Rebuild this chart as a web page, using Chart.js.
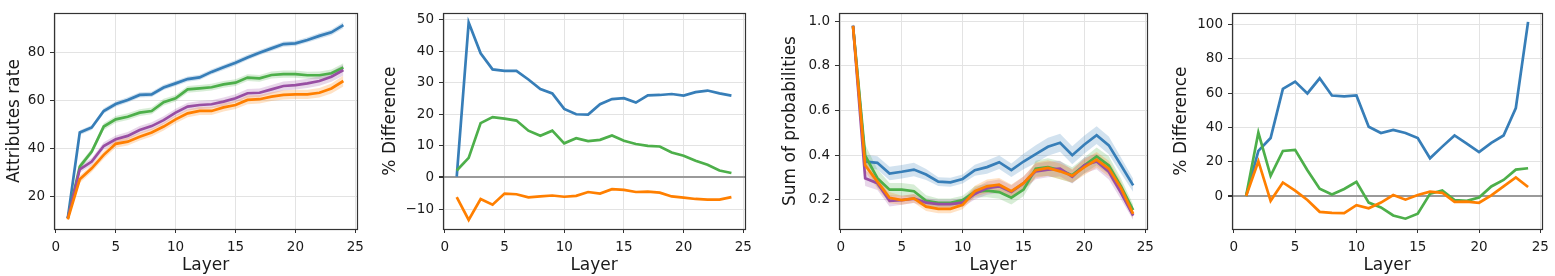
<!DOCTYPE html>
<html>
<head>
<meta charset="utf-8">
<script src="https://cdn.jsdelivr.net/npm/chart.js@4.4.1/dist/chart.umd.min.js"></script>
<style>
body{margin:0;background:#fff;width:1555px;height:276px;overflow:hidden;position:relative}
canvas{position:absolute;top:0}
</style>
</head>
<body>
<canvas id="c1" width="370" height="276" style="left:0px"></canvas>
<canvas id="c2" width="378" height="276" style="left:380px"></canvas>
<canvas id="c3" width="390" height="276" style="left:770px"></canvas>
<canvas id="c4" width="390" height="276" style="left:1165px"></canvas>
<script>
// x values and ticks shared by all panels
const layers = [1,2,3,4,5,6,7,8,9,10,11,12,13,14,15,16,17,18,19,20,21,22,23,24];
const xTicks = [0,5,10,15,20,25];

// panel 1 - attributes rate (mean and half width of the shaded band)
const rateBlue = [11,46.7,48.8,55.7,58.6,60.3,62.4,62.6,65.5,67.2,69,69.7,72,73.9,75.8,78,80,81.8,83.6,83.9,85.3,87,88.5,91.5];
const rateGreen = [11,32.5,38.8,49.2,52.2,53.3,55,55.7,59.4,61,64.7,65.1,65.6,66.8,67.5,69.6,69.3,70.7,71.1,71.1,70.6,70.6,71.4,73.8];
const ratePurple = [11,31.4,34.6,41.1,43.9,45.3,47.8,49.4,51.9,55,57.5,58.2,58.5,59.6,61,63.1,63.3,64.7,66.1,66.5,67.2,68.2,70,72.8];
const rateOrange = [10.5,27.2,31.8,37.4,42,42.9,45,46.7,49.2,52.2,54.7,55.7,55.7,57.2,58.2,60.3,60.6,61.7,62.4,62.6,62.6,63.3,65.1,68.2];
const rateErrBlue = [0.6,1.0,1.0,1.1,1.1,1.1,1.1,1.1,1.1,1.1,1.1,1.1,1.1,1.1,1.1,1.1,1.1,1.1,1.1,1.1,1.1,1.2,1.2,1.3];
const rateErrGreen = [0.6,1.3,1.3,1.4,1.4,1.4,1.4,1.4,1.4,1.4,1.4,1.4,1.4,1.4,1.4,1.4,1.4,1.5,1.5,1.5,1.5,1.6,1.6,1.8];
const rateErrPurple = [0.6,1.5,1.5,1.6,1.6,1.6,1.6,1.6,1.6,1.6,1.6,1.7,1.7,1.7,1.7,1.8,1.8,1.8,1.9,1.9,1.9,2.0,2.1,2.3];
const rateErrOrange = [0.6,1.5,1.5,1.6,1.6,1.6,1.6,1.6,1.6,1.6,1.6,1.7,1.7,1.7,1.7,1.8,1.8,1.8,1.9,1.9,1.9,2.0,2.1,2.3];
const rateTicks = [20,40,60,80];

// panel 2 - % difference
const diffBlue = [0.3,49,39.3,34.2,33.7,33.7,31,28,26.6,21.7,20,19.9,23.2,24.8,25.1,23.7,26,26.1,26.4,25.9,27,27.5,26.6,25.9];
const diffGreen = [2.2,6.2,17.2,19.1,18.6,18,14.8,13.2,14.8,10.8,12.4,11.5,11.9,13.3,11.6,10.6,10,9.8,7.9,6.9,5.3,4,2.2,1.4];
const diffOrange = [-6.2,-13.4,-6.8,-8.6,-5.1,-5.3,-6.3,-6,-5.7,-6.1,-5.8,-4.6,-5.1,-3.7,-3.9,-4.6,-4.5,-4.8,-6,-6.4,-6.8,-7,-7,-6.2];
const diffTicks = [-10,0,10,20,30,40,50];

// panel 3 - sum of probabilities
const sumBlue = [0.978,0.372,0.366,0.318,0.326,0.336,0.314,0.282,0.279,0.294,0.333,0.347,0.369,0.333,0.372,0.405,0.438,0.456,0.40,0.448,0.49,0.444,0.355,0.265];
const sumGreen = [0.98,0.398,0.297,0.246,0.246,0.239,0.196,0.187,0.187,0.199,0.236,0.242,0.235,0.21,0.246,0.34,0.347,0.333,0.311,0.355,0.395,0.355,0.261,0.155];
const sumPurple = [0.98,0.297,0.275,0.196,0.199,0.206,0.188,0.181,0.181,0.188,0.227,0.253,0.261,0.236,0.275,0.328,0.336,0.34,0.304,0.355,0.372,0.326,0.232,0.13];
const sumOrange = [0.978,0.355,0.282,0.21,0.199,0.207,0.17,0.16,0.16,0.178,0.239,0.261,0.268,0.239,0.275,0.333,0.343,0.328,0.308,0.347,0.38,0.34,0.253,0.138];
const sumErrBlue = [0.01,0.03,0.03,0.03,0.03,0.03,0.025,0.02,0.02,0.02,0.025,0.03,0.03,0.03,0.035,0.04,0.04,0.04,0.04,0.04,0.04,0.04,0.035,0.03];
const sumErrGreen = [0.01,0.05,0.04,0.03,0.03,0.03,0.025,0.02,0.02,0.02,0.025,0.03,0.03,0.03,0.03,0.035,0.04,0.04,0.035,0.035,0.04,0.04,0.035,0.025];
const sumErrPurple = [0.01,0.035,0.03,0.025,0.02,0.02,0.02,0.02,0.02,0.02,0.025,0.03,0.03,0.03,0.03,0.035,0.035,0.035,0.03,0.035,0.035,0.035,0.03,0.02];
const sumErrOrange = [0.01,0.03,0.03,0.025,0.02,0.02,0.02,0.02,0.02,0.02,0.025,0.03,0.03,0.03,0.03,0.035,0.035,0.035,0.03,0.035,0.035,0.035,0.03,0.02];
const sumTicks = [0.2,0.4,0.6,0.8,1.0];

// panel 4 - % difference
const pdBlue = [0,26.3,33.8,62.4,66.7,59.8,68.6,58.6,58.1,58.6,40.4,36.7,38.5,36.7,33.8,22,28.8,35.3,30.6,25.6,31,35.3,51.3,101.5];
const pdGreen = [0,37,11.8,26.3,26.9,15,4.3,0.9,4.1,8.3,-3.8,-6.6,-11.3,-13.2,-10.3,1.3,3.2,-2.3,-2.8,-0.9,5.6,9.4,15.4,16.2];
const pdOrange = [0,20.3,-2.8,7.9,3.2,-2.3,-9.2,-9.8,-10,-5.3,-7.1,-3.8,0.6,-2.1,0.6,2.6,1.9,-3.4,-3.2,-3.9,0.4,5.6,10.9,5.3];
const pdTicks = [0,20,40,60,80,100];

const blue = '#377eb8', green = '#4daf4a', purple = '#984ea3', orange = '#ff7f00';

Chart.defaults.font.family = 'DejaVu Sans';
Chart.defaults.color = '#1a1a1a';

function pts(vals){
return layers.map((x,i)=>({x:x,y:vals[i]}));
}

function line(vals,color,order){
return {data:pts(vals),borderColor:color,borderWidth:2.7,pointRadius:0,fill:false,order:order};
}

function band(vals,err,color,order){
return [
{data:layers.map((x,i)=>({x:x,y:vals[i]-err[i]})),borderWidth:0,pointRadius:0,fill:false,order:order},
{data:layers.map((x,i)=>({x:x,y:vals[i]+err[i]})),borderWidth:0,pointRadius:0,fill:'-1',backgroundColor:color+'3a',order:order}
];
}

// box around the plot area
const frame = {
id:'frame',
afterDraw(chart){
const a = chart.chartArea, c = chart.ctx;
c.save();
c.strokeStyle = '#333';
c.lineWidth = 1.2;
c.strokeRect(Math.round(a.left)+0.5,Math.round(a.top)+0.5,Math.round(a.right-a.left),Math.round(a.bottom-a.top));
c.restore();
}
};

function fmt(v,dec){
const s = Math.abs(v).toFixed(dec);
return v<0 ? '\u2212'+s : s;
}

function makeChart(id,datasets,o){
return new Chart(document.getElementById(id),{
type:'line',
data:{datasets:datasets},
options:{
responsive:false,
animation:false,
devicePixelRatio:1,
layout:{padding:{top:o.top,right:o.right,left:0,bottom:0}},
plugins:{legend:{display:false},tooltip:{enabled:false}},
scales:{
x:{
type:'linear',min:-0.15,max:25.15,
afterBuildTicks:s=>{s.ticks=xTicks.map(v=>({value:v}));},
afterFit:s=>{s.height=47;},
grid:{color:'#e3e3e3',lineWidth:1,tickColor:'#333',tickLength:4},
border:{display:false},
ticks:{font:{size:13.5},padding:6,maxRotation:0,callback:v=>fmt(v,0)},
title:{display:true,text:'Layer',font:{size:17},padding:{top:0,bottom:0}}
},
y:{
type:'linear',min:o.min,max:o.max,
afterBuildTicks:s=>{s.ticks=o.ticks.map(v=>({value:v}));},
afterFit:s=>{s.width=o.yw;},
grid:{
color:c=>(o.zero && c.tick && c.tick.value===0) ? '#9a9a9a' : '#e3e3e3',
lineWidth:c=>(o.zero && c.tick && c.tick.value===0) ? 2 : 1,
tickColor:'#333',tickLength:4
},
border:{display:false},
ticks:{font:{size:13.5},padding:5,callback:v=>fmt(v,o.dec)},
title:{display:true,text:o.title,font:{size:17},padding:{top:o.tp,bottom:0}}
}
}
},
plugins:[frame]
});
}

makeChart('c1',[
...band(rateBlue,rateErrBlue,blue,20),
...band(rateGreen,rateErrGreen,green,19),
...band(ratePurple,rateErrPurple,purple,18),
...band(rateOrange,rateErrOrange,orange,17),
line(rateBlue,blue,4),
line(rateGreen,green,3),
line(ratePurple,purple,2),
line(rateOrange,orange,1)
],{top:13,right:9,yw:54,min:6.5,max:96.5,ticks:rateTicks,dec:0,title:'Attributes rate',tp:4});

makeChart('c2',[
line(diffBlue,blue,3),
line(diffGreen,green,2),
line(diffOrange,orange,1)
],{top:13,right:9,yw:63,min:-16.3,max:52,ticks:diffTicks,dec:0,title:'% Difference',tp:0,zero:true});

makeChart('c3',[
...band(sumBlue,sumErrBlue,blue,20),
...band(sumGreen,sumErrGreen,green,19),
...band(sumPurple,sumErrPurple,purple,18),
...band(sumOrange,sumErrOrange,orange,17),
line(sumBlue,blue,4),
line(sumGreen,green,3),
line(sumPurple,purple,2),
line(sumOrange,orange,1)
],{top:6,right:10,yw:69,min:0.07,max:1.036,ticks:sumTicks,dec:1,title:'Sum of probabilities',tp:10});

makeChart('c4',[
line(pdBlue,blue,3),
line(pdGreen,green,2),
line(pdOrange,orange,1)
],{top:6,right:11,yw:67,min:-19.2,max:106.6,ticks:pdTicks,dec:0,title:'% Difference',tp:6,zero:true});
</script>
</body>
</html>
